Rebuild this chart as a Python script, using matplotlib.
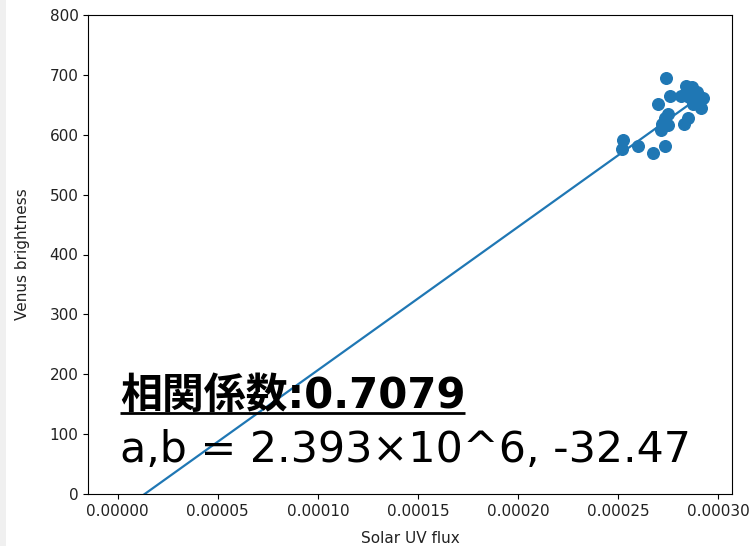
import numpy as np
import matplotlib
matplotlib.use("Agg")
import matplotlib.pyplot as plt
from matplotlib.patches import Rectangle

# Data
uv_flux = [2.7385e-4, 2.760e-4, 2.697e-4, 2.8385e-4, 2.8685e-4, 2.892e-4,
           2.922e-4, 2.9135e-4, 2.875e-4, 2.852e-4, 2.8135e-4, 2.875e-4,
           2.847e-4, 2.830e-4, 2.747e-4, 2.735e-4, 2.7185e-4, 2.7135e-4,
           2.747e-4, 2.522e-4, 2.5185e-4, 2.600e-4, 2.672e-4, 2.735e-4]
brightness = [694.0, 665.0, 650.6, 681.6, 680.0, 671.6,
              661.6, 644.9, 660.6, 663.3, 665.0, 650.6,
              628.2, 617.2, 633.9, 627.2, 617.2, 607.7,
              616.0, 591.0, 576.0, 581.5, 568.8, 581.5]
slope_a = 2.393e6
intercept_b = -32.47
corr = 0.7079
fit_x = [0.0, max(uv_flux)]

W, H, DPI = 755, 546, 100
fig = plt.figure(figsize=(W / DPI, H / DPI), dpi=DPI)
fig.patches.append(Rectangle((0, 0), 6 / W, 1, transform=fig.transFigure,
                             facecolor="#f0f0f0", edgecolor="none", zorder=-10))

ax = fig.add_axes([88.3 / W, (H - 494) / H, (732 - 88.3) / W, (494 - 15) / H])

ax.scatter(uv_flux, brightness, s=70, color="#1f77b4", zorder=3)
fx = np.array(fit_x)
ax.plot(fx, slope_a * fx + intercept_b, color="#1f77b4", lw=1.6, zorder=2)

ax.set_ylim(0, 800)
ax.set_xlabel("Solar UV flux", fontsize=11, color="#222222", labelpad=9)
ax.set_ylabel("Venus brightness", fontsize=11, color="#222222", labelpad=14)
ax.tick_params(labelsize=11, labelcolor="#222222")

fam = ["DejaVu Sans", "Noto Sans CJK JP"]
tx, ty1, ty2 = 0.049, 0.18, 0.067
t1 = ax.text(tx, ty1, f"相関係数:{corr}", transform=ax.transAxes, family=fam,
             fontsize=30.2, fontweight="bold", va="baseline", ha="left", zorder=5)
t2 = ax.text(tx, ty2, f"a,b = {slope_a/1e6:.3f}×10^6, {intercept_b}",
             transform=ax.transAxes, family=fam, fontsize=30.8,
             va="baseline", ha="left", zorder=5)

fig.canvas.draw()
bb = t1.get_window_extent().transformed(ax.transAxes.inverted())
uy = ty1 - 5.5 / 479
ax.plot([tx, bb.x1], [uy, uy], transform=ax.transAxes, color="black",
        lw=2, solid_capstyle="butt", clip_on=False, zorder=5)

fig.savefig("out.png", dpi=DPI)
